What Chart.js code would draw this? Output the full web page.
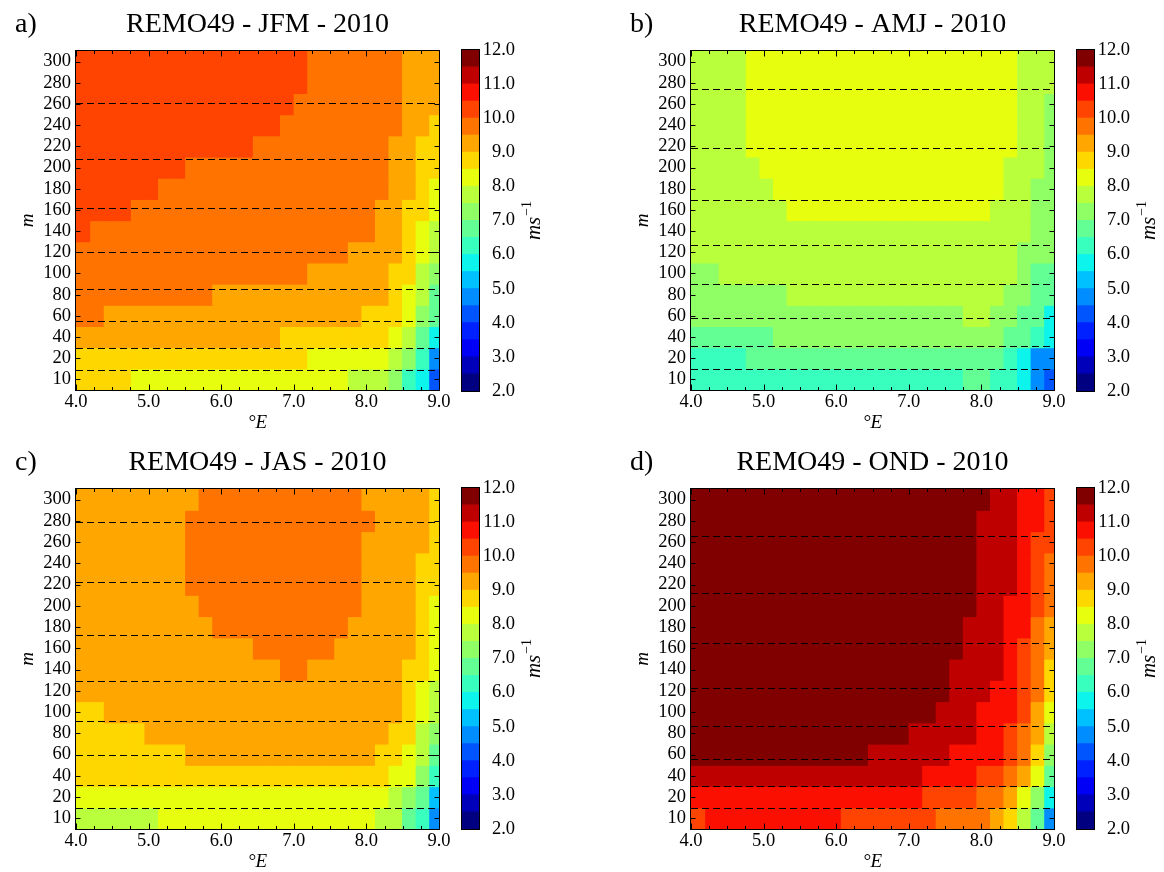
<!DOCTYPE html>
<html>
<head>
<meta charset="utf-8">
<script src="https://cdn.jsdelivr.net/npm/chart.js@4.4.1/dist/chart.umd.min.js"></script>
<style>
  html, body { margin: 0; padding: 0; background: #fff; overflow: hidden; }
  #fig { position: relative; width: 1164px; height: 872px; }
  #fig canvas { position: absolute; }
</style>
</head>
<body>
<div id="fig">
  <canvas id="mapA" width="515" height="440" style="left:0;top:0"></canvas>
  <canvas id="barA" width="99" height="440" style="left:450px;top:0"></canvas>
  <canvas id="mapB" width="515" height="440" style="left:615px;top:0"></canvas>
  <canvas id="barB" width="99" height="440" style="left:1065px;top:0"></canvas>
  <canvas id="mapC" width="515" height="441" style="left:0;top:438px"></canvas>
  <canvas id="barC" width="99" height="441" style="left:450px;top:438px"></canvas>
  <canvas id="mapD" width="515" height="441" style="left:615px;top:438px"></canvas>
  <canvas id="barD" width="99" height="441" style="left:1065px;top:438px"></canvas>
</div>
<script>
var serif = '"Liberation Serif", "Times New Roman", serif';

Chart.defaults.font.family = serif;
Chart.defaults.font.size = 18;
Chart.defaults.color = '#000';

// model levels (m), bottom to top
var levelLabels = ['10', '20', '40', '60', '80', '100', '120', '140', '160', '180', '200', '220', '240', '260', '280', '300'];

// grid column edges (degrees east)
var lonEdges = [4.000, 4.187, 4.374, 4.560, 4.747, 4.934, 5.121, 5.308, 5.494, 5.681, 5.868, 6.055, 6.242, 6.428,
                6.615, 6.802, 6.989, 7.176, 7.362, 7.549, 7.736, 7.923, 8.110, 8.296, 8.483, 8.670, 8.857, 9.044];
var lonTicks = [4, 5, 6, 7, 8, 9];

// colour classes of the wind speed (m/s)
var speedBounds = [2.0, 2.5, 3.0, 3.5, 4.0, 4.5, 5.0, 5.5, 6.0, 6.5, 7.0, 7.5, 8.0, 8.5, 9.0, 9.5, 10.0, 10.5, 11.0, 11.5, 12.0];
var speedTicks = [2, 3, 4, 5, 6, 7, 8, 9, 10, 11, 12];

// mean wind speed per level (rows, 10 m first) and column
var speedJFM = [
  [8.7, 8.7, 8.7, 8.7, 8.2, 8.2, 8.2, 8.2, 8.2,  8.2, 8.2, 8.2, 8.2, 8.2, 8.2, 8.2, 8.2, 8.2,  8.2, 8.2, 7.7, 7.7, 7.7, 7.2, 6.2, 5.7, 4.2],
  [8.7, 8.7, 8.7, 8.7, 8.7, 8.7, 8.7, 8.7, 8.7,  8.7, 8.7, 8.7, 8.7, 8.7, 8.7, 8.7, 8.7, 8.2,  8.2, 8.2, 8.2, 8.2, 8.2, 7.7, 7.2, 6.2, 4.7],
  [9.2, 9.2, 9.2, 9.2, 9.2, 9.2, 9.2, 9.2, 9.2,  9.2, 9.2, 9.2, 9.2, 9.2, 9.2, 8.7, 8.7, 8.7,  8.7, 8.7, 8.7, 8.7, 8.7, 8.2, 7.7, 6.7, 5.7],
  [9.7, 9.7, 9.2, 9.2, 9.2, 9.2, 9.2, 9.2, 9.2,  9.2, 9.2, 9.2, 9.2, 9.2, 9.2, 9.2, 9.2, 9.2,  9.2, 9.2, 9.2, 8.7, 8.7, 8.7, 8.2, 7.2, 6.7],
  [9.7, 9.7, 9.7, 9.7, 9.7, 9.7, 9.7, 9.7, 9.7,  9.7, 9.2, 9.2, 9.2, 9.2, 9.2, 9.2, 9.2, 9.2,  9.2, 9.2, 9.2, 9.2, 9.2, 8.7, 8.2, 7.7, 6.7],
  [9.7, 9.7, 9.7, 9.7, 9.7, 9.7, 9.7, 9.7, 9.7,  9.7, 9.7, 9.7, 9.7, 9.7, 9.7, 9.7, 9.7, 9.2,  9.2, 9.2, 9.2, 9.2, 9.2, 8.7, 8.7, 7.7, 7.2],
  [9.7, 9.7, 9.7, 9.7, 9.7, 9.7, 9.7, 9.7, 9.7,  9.7, 9.7, 9.7, 9.7, 9.7, 9.7, 9.7, 9.7, 9.7,  9.7, 9.7, 9.2, 9.2, 9.2, 9.2, 8.7, 8.2, 7.7],
  [10.2, 9.7, 9.7, 9.7, 9.7, 9.7, 9.7, 9.7, 9.7,  9.7, 9.7, 9.7, 9.7, 9.7, 9.7, 9.7, 9.7, 9.7,  9.7, 9.7, 9.7, 9.7, 9.2, 9.2, 8.7, 8.2, 7.7],
  [10.2, 10.2, 10.2, 10.2, 9.7, 9.7, 9.7, 9.7, 9.7,  9.7, 9.7, 9.7, 9.7, 9.7, 9.7, 9.7, 9.7, 9.7,  9.7, 9.7, 9.7, 9.7, 9.2, 9.2, 8.7, 8.7, 8.2],
  [10.2, 10.2, 10.2, 10.2, 10.2, 10.2, 9.7, 9.7, 9.7,  9.7, 9.7, 9.7, 9.7, 9.7, 9.7, 9.7, 9.7, 9.7,  9.7, 9.7, 9.7, 9.7, 9.7, 9.2, 9.2, 8.7, 8.2],
  [10.2, 10.2, 10.2, 10.2, 10.2, 10.2, 10.2, 10.2, 9.7,  9.7, 9.7, 9.7, 9.7, 9.7, 9.7, 9.7, 9.7, 9.7,  9.7, 9.7, 9.7, 9.7, 9.7, 9.2, 9.2, 8.7, 8.7],
  [10.2, 10.2, 10.2, 10.2, 10.2, 10.2, 10.2, 10.2, 10.2,  10.2, 10.2, 10.2, 10.2, 9.7, 9.7, 9.7, 9.7, 9.7,  9.7, 9.7, 9.7, 9.7, 9.7, 9.2, 9.2, 8.7, 8.7],
  [10.2, 10.2, 10.2, 10.2, 10.2, 10.2, 10.2, 10.2, 10.2,  10.2, 10.2, 10.2, 10.2, 10.2, 10.2, 9.7, 9.7, 9.7,  9.7, 9.7, 9.7, 9.7, 9.7, 9.7, 9.2, 9.2, 8.7],
  [10.2, 10.2, 10.2, 10.2, 10.2, 10.2, 10.2, 10.2, 10.2,  10.2, 10.2, 10.2, 10.2, 10.2, 10.2, 10.2, 9.7, 9.7,  9.7, 9.7, 9.7, 9.7, 9.7, 9.7, 9.2, 9.2, 9.2],
  [10.2, 10.2, 10.2, 10.2, 10.2, 10.2, 10.2, 10.2, 10.2,  10.2, 10.2, 10.2, 10.2, 10.2, 10.2, 10.2, 10.2, 9.7,  9.7, 9.7, 9.7, 9.7, 9.7, 9.7, 9.2, 9.2, 9.2],
  [10.2, 10.2, 10.2, 10.2, 10.2, 10.2, 10.2, 10.2, 10.2,  10.2, 10.2, 10.2, 10.2, 10.2, 10.2, 10.2, 10.2, 9.7,  9.7, 9.7, 9.7, 9.7, 9.7, 9.7, 9.2, 9.2, 9.2]
];

var speedAMJ = [
  [6.2, 6.2, 6.2, 6.2, 6.2, 6.2, 6.2, 6.2, 6.2,  6.2, 6.2, 6.2, 6.2, 6.2, 6.2, 6.2, 6.2, 6.2,  6.2, 6.2, 6.7, 6.7, 6.2, 6.2, 5.7, 4.7, 4.2],
  [6.2, 6.2, 6.2, 6.2, 6.7, 6.7, 6.7, 6.7, 6.7,  6.7, 6.7, 6.7, 6.7, 6.7, 6.7, 6.7, 6.7, 6.7,  6.7, 6.7, 6.7, 6.7, 6.7, 6.2, 5.7, 4.7, 4.7],
  [6.7, 6.7, 6.7, 6.7, 6.7, 6.7, 7.2, 7.2, 7.2,  7.2, 7.2, 7.2, 7.2, 7.2, 7.2, 7.2, 7.2, 7.2,  7.2, 7.2, 7.2, 7.2, 7.2, 6.7, 6.7, 6.2, 5.7],
  [7.2, 7.2, 7.2, 7.2, 7.2, 7.2, 7.2, 7.2, 7.2,  7.2, 7.2, 7.2, 7.2, 7.2, 7.2, 7.2, 7.2, 7.2,  7.2, 7.2, 7.7, 7.7, 7.2, 7.2, 6.7, 6.7, 5.7],
  [7.2, 7.2, 7.2, 7.2, 7.2, 7.2, 7.2, 7.7, 7.7,  7.7, 7.7, 7.7, 7.7, 7.7, 7.7, 7.7, 7.7, 7.7,  7.7, 7.7, 7.7, 7.7, 7.7, 7.2, 7.2, 6.7, 6.7],
  [7.2, 7.2, 7.7, 7.7, 7.7, 7.7, 7.7, 7.7, 7.7,  7.7, 7.7, 7.7, 7.7, 7.7, 7.7, 7.7, 7.7, 7.7,  7.7, 7.7, 7.7, 7.7, 7.7, 7.7, 7.2, 6.7, 6.7],
  [7.7, 7.7, 7.7, 7.7, 7.7, 7.7, 7.7, 7.7, 7.7,  7.7, 7.7, 7.7, 7.7, 7.7, 7.7, 7.7, 7.7, 7.7,  7.7, 7.7, 7.7, 7.7, 7.7, 7.7, 7.2, 7.2, 7.2],
  [7.7, 7.7, 7.7, 7.7, 7.7, 7.7, 7.7, 7.7, 7.7,  7.7, 7.7, 7.7, 7.7, 7.7, 7.7, 7.7, 7.7, 7.7,  7.7, 7.7, 7.7, 7.7, 7.7, 7.7, 7.7, 7.2, 7.2],
  [7.7, 7.7, 7.7, 7.7, 7.7, 7.7, 7.7, 8.2, 8.2,  8.2, 8.2, 8.2, 8.2, 8.2, 8.2, 8.2, 8.2, 8.2,  8.2, 8.2, 8.2, 8.2, 7.7, 7.7, 7.7, 7.2, 7.2],
  [7.7, 7.7, 7.7, 7.7, 7.7, 7.7, 8.2, 8.2, 8.2,  8.2, 8.2, 8.2, 8.2, 8.2, 8.2, 8.2, 8.2, 8.2,  8.2, 8.2, 8.2, 8.2, 8.2, 7.7, 7.7, 7.2, 7.2],
  [7.7, 7.7, 7.7, 7.7, 7.7, 8.2, 8.2, 8.2, 8.2,  8.2, 8.2, 8.2, 8.2, 8.2, 8.2, 8.2, 8.2, 8.2,  8.2, 8.2, 8.2, 8.2, 8.2, 7.7, 7.7, 7.7, 7.2],
  [7.7, 7.7, 7.7, 7.7, 8.2, 8.2, 8.2, 8.2, 8.2,  8.2, 8.2, 8.2, 8.2, 8.2, 8.2, 8.2, 8.2, 8.2,  8.2, 8.2, 8.2, 8.2, 8.2, 8.2, 7.7, 7.7, 7.2],
  [7.7, 7.7, 7.7, 7.7, 8.2, 8.2, 8.2, 8.2, 8.2,  8.2, 8.2, 8.2, 8.2, 8.2, 8.2, 8.2, 8.2, 8.2,  8.2, 8.2, 8.2, 8.2, 8.2, 8.2, 7.7, 7.7, 7.2],
  [7.7, 7.7, 7.7, 7.7, 8.2, 8.2, 8.2, 8.2, 8.2,  8.2, 8.2, 8.2, 8.2, 8.2, 8.2, 8.2, 8.2, 8.2,  8.2, 8.2, 8.2, 8.2, 8.2, 8.2, 7.7, 7.7, 7.2],
  [7.7, 7.7, 7.7, 7.7, 8.2, 8.2, 8.2, 8.2, 8.2,  8.2, 8.2, 8.2, 8.2, 8.2, 8.2, 8.2, 8.2, 8.2,  8.2, 8.2, 8.2, 8.2, 8.2, 8.2, 7.7, 7.7, 7.7],
  [7.7, 7.7, 7.7, 7.7, 8.2, 8.2, 8.2, 8.2, 8.2,  8.2, 8.2, 8.2, 8.2, 8.2, 8.2, 8.2, 8.2, 8.2,  8.2, 8.2, 8.2, 8.2, 8.2, 8.2, 7.7, 7.7, 7.7]
];

var speedJAS = [
  [7.7, 7.7, 7.7, 7.7, 7.7, 7.7, 8.2, 8.2, 8.2,  8.2, 8.2, 8.2, 8.2, 8.2, 8.2, 8.2, 8.2, 8.2,  8.2, 8.2, 8.2, 8.2, 7.7, 7.7, 6.7, 6.2, 4.7],
  [8.2, 8.2, 8.2, 8.2, 8.2, 8.2, 8.2, 8.2, 8.2,  8.2, 8.2, 8.2, 8.2, 8.2, 8.2, 8.2, 8.2, 8.2,  8.2, 8.2, 8.2, 8.2, 8.2, 7.7, 7.2, 6.7, 5.2],
  [8.7, 8.7, 8.7, 8.7, 8.7, 8.7, 8.7, 8.7, 8.7,  8.7, 8.7, 8.7, 8.7, 8.7, 8.7, 8.7, 8.7, 8.7,  8.7, 8.7, 8.7, 8.7, 8.7, 8.2, 8.2, 7.2, 6.2],
  [8.7, 8.7, 8.7, 8.7, 8.7, 8.7, 8.7, 8.7, 9.2,  9.2, 9.2, 9.2, 9.2, 9.2, 9.2, 9.2, 9.2, 9.2,  9.2, 9.2, 9.2, 9.2, 8.7, 8.7, 8.2, 7.7, 6.7],
  [8.7, 8.7, 8.7, 8.7, 8.7, 9.2, 9.2, 9.2, 9.2,  9.2, 9.2, 9.2, 9.2, 9.2, 9.2, 9.2, 9.2, 9.2,  9.2, 9.2, 9.2, 9.2, 9.2, 8.7, 8.7, 7.7, 7.2],
  [8.7, 8.7, 9.2, 9.2, 9.2, 9.2, 9.2, 9.2, 9.2,  9.2, 9.2, 9.2, 9.2, 9.2, 9.2, 9.2, 9.2, 9.2,  9.2, 9.2, 9.2, 9.2, 9.2, 9.2, 8.7, 8.2, 7.7],
  [9.2, 9.2, 9.2, 9.2, 9.2, 9.2, 9.2, 9.2, 9.2,  9.2, 9.2, 9.2, 9.2, 9.2, 9.2, 9.2, 9.2, 9.2,  9.2, 9.2, 9.2, 9.2, 9.2, 9.2, 8.7, 8.2, 7.7],
  [9.2, 9.2, 9.2, 9.2, 9.2, 9.2, 9.2, 9.2, 9.2,  9.2, 9.2, 9.2, 9.2, 9.2, 9.2, 9.7, 9.7, 9.2,  9.2, 9.2, 9.2, 9.2, 9.2, 9.2, 8.7, 8.7, 8.2],
  [9.2, 9.2, 9.2, 9.2, 9.2, 9.2, 9.2, 9.2, 9.2,  9.2, 9.2, 9.2, 9.2, 9.7, 9.7, 9.7, 9.7, 9.7,  9.7, 9.2, 9.2, 9.2, 9.2, 9.2, 9.2, 8.7, 8.2],
  [9.2, 9.2, 9.2, 9.2, 9.2, 9.2, 9.2, 9.2, 9.2,  9.2, 9.7, 9.7, 9.7, 9.7, 9.7, 9.7, 9.7, 9.7,  9.7, 9.7, 9.2, 9.2, 9.2, 9.2, 9.2, 8.7, 8.2],
  [9.2, 9.2, 9.2, 9.2, 9.2, 9.2, 9.2, 9.2, 9.2,  9.7, 9.7, 9.7, 9.7, 9.7, 9.7, 9.7, 9.7, 9.7,  9.7, 9.7, 9.7, 9.2, 9.2, 9.2, 9.2, 8.7, 8.2],
  [9.2, 9.2, 9.2, 9.2, 9.2, 9.2, 9.2, 9.2, 9.7,  9.7, 9.7, 9.7, 9.7, 9.7, 9.7, 9.7, 9.7, 9.7,  9.7, 9.7, 9.7, 9.2, 9.2, 9.2, 9.2, 8.7, 8.7],
  [9.2, 9.2, 9.2, 9.2, 9.2, 9.2, 9.2, 9.2, 9.7,  9.7, 9.7, 9.7, 9.7, 9.7, 9.7, 9.7, 9.7, 9.7,  9.7, 9.7, 9.7, 9.2, 9.2, 9.2, 9.2, 8.7, 8.7],
  [9.2, 9.2, 9.2, 9.2, 9.2, 9.2, 9.2, 9.2, 9.7,  9.7, 9.7, 9.7, 9.7, 9.7, 9.7, 9.7, 9.7, 9.7,  9.7, 9.7, 9.7, 9.2, 9.2, 9.2, 9.2, 9.2, 8.7],
  [9.2, 9.2, 9.2, 9.2, 9.2, 9.2, 9.2, 9.2, 9.7,  9.7, 9.7, 9.7, 9.7, 9.7, 9.7, 9.7, 9.7, 9.7,  9.7, 9.7, 9.7, 9.7, 9.2, 9.2, 9.2, 9.2, 8.7],
  [9.2, 9.2, 9.2, 9.2, 9.2, 9.2, 9.2, 9.2, 9.2,  9.7, 9.7, 9.7, 9.7, 9.7, 9.7, 9.7, 9.7, 9.7,  9.7, 9.7, 9.7, 9.2, 9.2, 9.2, 9.2, 9.2, 8.7]
];

var speedOND = [
  [10.2, 10.7, 10.7, 10.7, 10.7, 10.7, 10.7, 10.7, 10.7,  10.7, 10.7, 10.2, 10.2, 10.2, 10.2, 10.2, 10.2, 10.2,  9.7, 9.7, 9.7, 9.7, 9.2, 8.7, 7.7, 6.7, 4.7],
  [10.7, 10.7, 10.7, 10.7, 10.7, 10.7, 10.7, 10.7, 10.7,  10.7, 10.7, 10.7, 10.7, 10.7, 10.7, 10.7, 10.7, 10.2,  10.2, 10.2, 10.2, 9.7, 9.7, 9.2, 8.2, 7.2, 5.7],
  [11.2, 11.2, 11.2, 11.2, 11.2, 11.2, 11.2, 11.2, 11.2,  11.2, 11.2, 11.2, 11.2, 11.2, 11.2, 11.2, 11.2, 10.7,  10.7, 10.7, 10.7, 10.2, 10.2, 9.7, 9.2, 8.2, 6.7],
  [11.7, 11.7, 11.7, 11.7, 11.7, 11.7, 11.7, 11.7, 11.7,  11.7, 11.7, 11.7, 11.7, 11.2, 11.2, 11.2, 11.2, 11.2,  11.2, 10.7, 10.7, 10.7, 10.7, 10.2, 9.7, 8.7, 7.2],
  [11.7, 11.7, 11.7, 11.7, 11.7, 11.7, 11.7, 11.7, 11.7,  11.7, 11.7, 11.7, 11.7, 11.7, 11.7, 11.7, 11.2, 11.2,  11.2, 11.2, 11.2, 10.7, 10.7, 10.2, 9.7, 9.2, 7.7],
  [11.7, 11.7, 11.7, 11.7, 11.7, 11.7, 11.7, 11.7, 11.7,  11.7, 11.7, 11.7, 11.7, 11.7, 11.7, 11.7, 11.7, 11.7,  11.2, 11.2, 11.2, 10.7, 10.7, 10.7, 10.2, 9.2, 8.2],
  [11.7, 11.7, 11.7, 11.7, 11.7, 11.7, 11.7, 11.7, 11.7,  11.7, 11.7, 11.7, 11.7, 11.7, 11.7, 11.7, 11.7, 11.7,  11.7, 11.2, 11.2, 11.2, 10.7, 10.7, 10.2, 9.7, 8.7],
  [11.7, 11.7, 11.7, 11.7, 11.7, 11.7, 11.7, 11.7, 11.7,  11.7, 11.7, 11.7, 11.7, 11.7, 11.7, 11.7, 11.7, 11.7,  11.7, 11.2, 11.2, 11.2, 11.2, 10.7, 10.2, 9.7, 8.7],
  [11.7, 11.7, 11.7, 11.7, 11.7, 11.7, 11.7, 11.7, 11.7,  11.7, 11.7, 11.7, 11.7, 11.7, 11.7, 11.7, 11.7, 11.7,  11.7, 11.7, 11.2, 11.2, 11.2, 10.7, 10.2, 9.7, 9.2],
  [11.7, 11.7, 11.7, 11.7, 11.7, 11.7, 11.7, 11.7, 11.7,  11.7, 11.7, 11.7, 11.7, 11.7, 11.7, 11.7, 11.7, 11.7,  11.7, 11.7, 11.2, 11.2, 11.2, 10.7, 10.7, 9.7, 9.2],
  [11.7, 11.7, 11.7, 11.7, 11.7, 11.7, 11.7, 11.7, 11.7,  11.7, 11.7, 11.7, 11.7, 11.7, 11.7, 11.7, 11.7, 11.7,  11.7, 11.7, 11.7, 11.2, 11.2, 10.7, 10.7, 10.2, 9.7],
  [11.7, 11.7, 11.7, 11.7, 11.7, 11.7, 11.7, 11.7, 11.7,  11.7, 11.7, 11.7, 11.7, 11.7, 11.7, 11.7, 11.7, 11.7,  11.7, 11.7, 11.7, 11.2, 11.2, 11.2, 10.7, 10.2, 9.7],
  [11.7, 11.7, 11.7, 11.7, 11.7, 11.7, 11.7, 11.7, 11.7,  11.7, 11.7, 11.7, 11.7, 11.7, 11.7, 11.7, 11.7, 11.7,  11.7, 11.7, 11.7, 11.2, 11.2, 11.2, 10.7, 10.2, 9.7],
  [11.7, 11.7, 11.7, 11.7, 11.7, 11.7, 11.7, 11.7, 11.7,  11.7, 11.7, 11.7, 11.7, 11.7, 11.7, 11.7, 11.7, 11.7,  11.7, 11.7, 11.7, 11.2, 11.2, 11.2, 10.7, 10.2, 10.2],
  [11.7, 11.7, 11.7, 11.7, 11.7, 11.7, 11.7, 11.7, 11.7,  11.7, 11.7, 11.7, 11.7, 11.7, 11.7, 11.7, 11.7, 11.7,  11.7, 11.7, 11.7, 11.2, 11.2, 11.2, 10.7, 10.7, 10.2],
  [11.7, 11.7, 11.7, 11.7, 11.7, 11.7, 11.7, 11.7, 11.7,  11.7, 11.7, 11.7, 11.7, 11.7, 11.7, 11.7, 11.7, 11.7,  11.7, 11.7, 11.7, 11.7, 11.2, 11.2, 10.7, 10.7, 10.2]
];

// dashed level lines, in level-axis units
var dashJFM = [0.45, 1.49, 2.74, 4.27, 6.03, 8.07, 10.42, 13.05];
var dashAMJ = [0.48, 1.56, 2.89, 4.48, 6.33, 8.48, 10.94, 13.69];
var dashJAS = [0.48, 1.58, 2.97, 4.57, 6.47, 8.64, 11.12, 13.95];
var dashOND = [0.47, 1.52, 2.80, 4.35, 6.14, 8.23, 10.61, 13.29];

var panelTitles = ['REMO49 - JFM - 2010', 'REMO49 - AMJ - 2010', 'REMO49 - JAS - 2010', 'REMO49 - OND - 2010'];
var panelLetters = ['a)', 'b)', 'c)', 'd)'];

var tickFont = { family: serif, size: 18.5 };

// matplotlib "jet"
function jet(x) {
    var r = x < 0.35 ? 0 : x < 0.66 ? (x - 0.35) / 0.31 : x < 0.89 ? 1 : 1 - 0.5 * (x - 0.89) / 0.11;
    var g = x < 0.125 ? 0 : x < 0.375 ? (x - 0.125) / 0.25 : x < 0.64 ? 1 : x < 0.91 ? 1 - (x - 0.64) / 0.27 : 0;
    var b = x < 0.11 ? 0.5 + 0.5 * x / 0.11 : x < 0.34 ? 1 : x < 0.65 ? 1 - (x - 0.34) / 0.31 : 0;
    return 'rgb(' + Math.round(r * 255) + ',' + Math.round(g * 255) + ',' + Math.round(b * 255) + ')';
}

var nBins = speedBounds.length - 1;
var binColours = [];
for (var i = 0; i < nBins; i++) {
    binColours.push(jet(Math.floor(i * 255 / (nBins - 1)) / 255));
}

function speedColour(v) {
    var idx = Math.floor((v - speedBounds[0]) / (speedBounds[1] - speedBounds[0]));
    return binColours[Math.max(0, Math.min(nBins - 1, idx))];
}

// dashed lines, frame, inward ticks and the panel headings
var panelDecor = {
    id: 'panelDecor',
    afterDatasetsDraw: function (chart, args, opts) {
        var ctx = chart.ctx, a = chart.chartArea, y = chart.scales.y;
        ctx.save();
        ctx.strokeStyle = '#000';
        ctx.lineWidth = 1.2;
        ctx.setLineDash([7, 4]);
        opts.dashes.forEach(function (v) {
            var py = Math.round(y.getPixelForValue(v)) + 0.5;
            ctx.beginPath();
            ctx.moveTo(a.left, py);
            ctx.lineTo(a.right, py);
            ctx.stroke();
        });
        ctx.restore();
    },
    afterDraw: function (chart, args, opts) {
        var ctx = chart.ctx, a = chart.chartArea, x = chart.scales.x, y = chart.scales.y;
        ctx.save();
        ctx.strokeStyle = '#000';
        ctx.lineWidth = 1;
        ctx.strokeRect(a.left - 0.5, a.top - 0.5, a.right - a.left + 1, a.bottom - a.top + 1);

        ctx.beginPath();
        for (var v = lonTicks[0]; v <= lonTicks[lonTicks.length - 1] + 1e-6; v += 0.25) {
            var px = Math.round(x.getPixelForValue(v)) + 0.5;
            var len = Math.abs(v - Math.round(v)) < 1e-6 ? 5.5 : 3;
            ctx.moveTo(px, a.top);
            ctx.lineTo(px, a.top + len);
            ctx.moveTo(px, a.bottom);
            ctx.lineTo(px, a.bottom - len);
        }
        for (var i = 0; i < levelLabels.length; i++) {
            var py = Math.round(y.getPixelForValue(i)) + 0.5;
            ctx.moveTo(a.left, py);
            ctx.lineTo(a.left + 4.5, py);
            ctx.moveTo(a.right, py);
            ctx.lineTo(a.right - 4.5, py);
        }
        ctx.stroke();

        ctx.fillStyle = '#000';
        ctx.font = '28px ' + serif;
        ctx.textBaseline = 'alphabetic';
        ctx.textAlign = 'center';
        ctx.fillText(opts.title, (a.left + a.right) / 2, a.top - 19);
        ctx.textAlign = 'left';
        ctx.fillText(opts.letter, a.left - 61, a.top - 19);
        ctx.restore();
    }
};

function buildPanel(canvasId, grid, dashes, title, letter) {
    var datasets = [];
    for (var k = 0; k < lonEdges.length - 1; k++) {
        datasets.push({
            data: grid.map(function () { return [lonEdges[k], lonEdges[k + 1]]; }),
            backgroundColor: grid.map(function (row) { return speedColour(row[k]); }),
            borderWidth: 0,
            inflateAmount: 0.6,
            grouped: false,
            barPercentage: 1,
            categoryPercentage: 1,
            clip: 0
        });
    }

    return new Chart(document.getElementById(canvasId), {
        type: 'bar',
        data: { labels: levelLabels, datasets: datasets },
        options: {
            indexAxis: 'y',
            responsive: false,
            animation: false,
            events: [],
            layout: { padding: { left: 0, top: 51, right: 76, bottom: 0 } },
            plugins: {
                legend: { display: false },
                tooltip: { enabled: false },
                panelDecor: { dashes: dashes, title: title, letter: letter }
            },
            scales: {
                x: {
                    type: 'linear',
                    min: lonTicks[0],
                    max: lonTicks[lonTicks.length - 1],
                    grid: { display: false, drawTicks: false },
                    border: { display: false },
                    afterBuildTicks: function (s) { s.ticks = lonTicks.map(function (v) { return { value: v }; }); },
                    ticks: {
                        autoSkip: false,
                        maxRotation: 0,
                        padding: 1,
                        font: tickFont,
                        callback: function (v) { return Number(v).toFixed(1); }
                    },
                    title: {
                        display: true,
                        text: '°E',
                        font: { family: serif, size: 19, style: 'italic' },
                        padding: { top: 0, bottom: 6 }
                    },
                    afterFit: function (s) { s.height = 50; }
                },
                y: {
                    type: 'category',
                    reverse: true,
                    offset: true,
                    grid: { display: false, drawTicks: false },
                    border: { display: false },
                    ticks: { autoSkip: false, padding: 5, font: tickFont },
                    title: {
                        display: true,
                        text: 'm',
                        font: { family: serif, size: 19, style: 'italic' },
                        padding: { top: 17, bottom: 0 }
                    },
                    afterFit: function (s) { s.width = 76; }
                }
            }
        },
        plugins: [panelDecor]
    });
}

// frame and rotated unit label of the colour bar
var colourbarDecor = {
    id: 'colourbarDecor',
    afterDraw: function (chart) {
        var ctx = chart.ctx, a = chart.chartArea;
        ctx.save();
        ctx.strokeStyle = '#000';
        ctx.lineWidth = 1;
        ctx.strokeRect(a.left - 0.5, a.top - 0.5, a.right - a.left + 1, a.bottom - a.top + 1);

        ctx.translate(90, (a.top + a.bottom) / 2);
        ctx.rotate(-Math.PI / 2);
        ctx.fillStyle = '#000';
        ctx.textBaseline = 'alphabetic';
        ctx.textAlign = 'left';
        ctx.font = 'italic 21px ' + serif;
        var w1 = ctx.measureText('ms').width;
        ctx.font = '14px ' + serif;
        var w2 = ctx.measureText('\u22121').width;
        var x0 = -(w1 + w2 + 1) / 2;
        ctx.font = 'italic 21px ' + serif;
        ctx.fillText('ms', x0, 0);
        ctx.font = '14px ' + serif;
        ctx.fillText('\u22121', x0 + w1 + 1, -9);
        ctx.restore();
    }
};

function buildColourbar(canvasId, bottomPad) {
    var datasets = binColours.map(function (c, i) {
        return {
            data: [[speedBounds[i], speedBounds[i + 1]]],
            backgroundColor: c,
            borderWidth: 0,
            inflateAmount: 0.5,
            grouped: false,
            barPercentage: 1,
            categoryPercentage: 1,
            clip: 0
        };
    });

    return new Chart(document.getElementById(canvasId), {
        type: 'bar',
        data: { labels: [''], datasets: datasets },
        options: {
            responsive: false,
            animation: false,
            events: [],
            layout: { padding: { left: 12, top: 50, right: 34, bottom: bottomPad } },
            plugins: { legend: { display: false }, tooltip: { enabled: false } },
            scales: {
                x: { display: false },
                y: {
                    position: 'right',
                    min: speedBounds[0],
                    max: speedBounds[speedBounds.length - 1],
                    grid: { display: false, drawTicks: false },
                    border: { display: false },
                    afterBuildTicks: function (s) { s.ticks = speedTicks.map(function (v) { return { value: v }; }); },
                    ticks: {
                        autoSkip: false,
                        padding: 4,
                        crossAlign: 'far',
                        font: tickFont,
                        callback: function (v) { return Number(v).toFixed(1); }
                    },
                    afterFit: function (s) { s.width = 36; }
                }
            }
        },
        plugins: [colourbarDecor]
    });
}

buildPanel('mapA', speedJFM, dashJFM, panelTitles[0], panelLetters[0]);
buildPanel('mapB', speedAMJ, dashAMJ, panelTitles[1], panelLetters[1]);
buildPanel('mapC', speedJAS, dashJAS, panelTitles[2], panelLetters[2]);
buildPanel('mapD', speedOND, dashOND, panelTitles[3], panelLetters[3]);

buildColourbar('barA', 49);
buildColourbar('barB', 49);
buildColourbar('barC', 50);
buildColourbar('barD', 50);
</script>
</body>
</html>
